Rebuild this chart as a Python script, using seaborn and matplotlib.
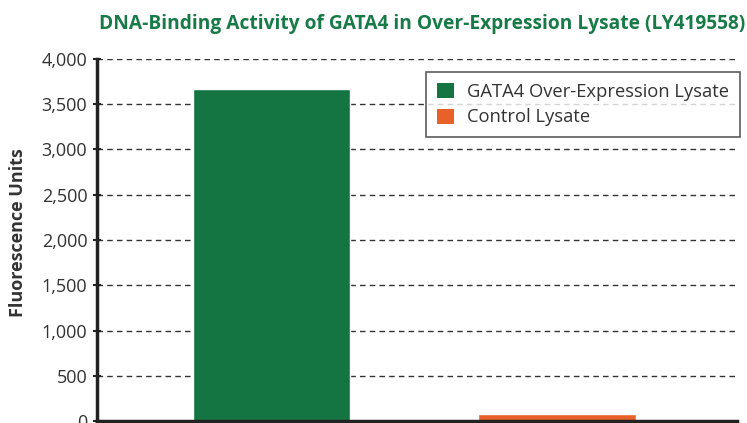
import matplotlib
matplotlib.use("Agg")
from matplotlib import pyplot as plt
from matplotlib.patches import Patch
import pandas as pd
import seaborn as sns

# Data
vzorky = ["GATA4 Over-Expression Lysate", "Control Lysate"]
hodnoty = [3665, 80]
barvy = ["#147442", "#E8612B"]

data = pd.DataFrame({"vzorek": vzorky, "fluorescence": hodnoty})

sns.set_style("white")
plt.rcParams["font.family"] = ["Open Sans", "DejaVu Sans"]

fig = plt.figure(figsize=(7.47, 4.23), dpi=100)
ax = fig.add_axes([97 / 747, 2 / 423, 640 / 747, 362 / 423])

sns.barplot(data=data, x="vzorek", y="fluorescence", hue="vzorek",
            palette=barvy, width=0.55, ax=ax, legend=False, saturation=1)

ax.set_ylim(0, 4000)
ax.set_xlim(-0.61, 1.63)
ax.set_yticks(range(0, 4001, 500))
ax.set_yticklabels([f"{v:,}" for v in range(0, 4001, 500)], fontsize=13, color="#333333")
ax.set_xticks([])
ax.set_xlabel("")
ax.set_ylabel("Fluorescence Units", fontsize=13, fontweight="bold", color="#333333")
ax.yaxis.set_label_coords(-0.11, 0.52)
ax.yaxis.grid(True, linestyle=(0, (4, 3)), color="#333333", linewidth=1)
ax.set_axisbelow(True)
ax.tick_params(axis="y", direction="inout", length=6, width=1.5, color="#222222", pad=4, left=True)

for side in ["top", "right"]:
    ax.spines[side].set_visible(False)
for side in ["left", "bottom"]:
    ax.spines[side].set_color("#222222")
    ax.spines[side].set_linewidth(2.5)

# Legenda
handles = [Patch(facecolor=b, edgecolor="none") for b in barvy]
leg = ax.legend(handles, vzorky, loc="upper right", bbox_to_anchor=(1.013, 0.979),
                fontsize=13.2, frameon=True, fancybox=False, handlelength=0.9,
                handleheight=0.9, handletextpad=0.7, borderpad=0.6, labelspacing=0.4,
                borderaxespad=0.3)
leg.get_frame().set_edgecolor("#333333")
leg.get_frame().set_linewidth(1.2)
for t in leg.get_texts():
    t.set_color("#333333")

fig.text(745 / 747, 1 - 24 / 423, "DNA-Binding Activity of GATA4 in Over-Expression Lysate (LY419558)",
         ha="right", va="center", fontsize=13.8, fontweight="bold", color="#177A47")

fig.savefig("out.png", dpi=100)
